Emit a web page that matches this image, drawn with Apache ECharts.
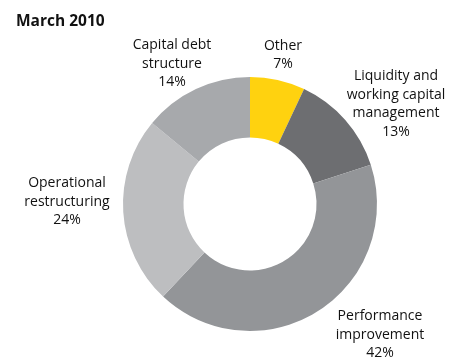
<!DOCTYPE html>
<html>
<head>
<meta charset="utf-8">
<script src="https://cdn.jsdelivr.net/npm/echarts@6/dist/echarts.min.js"></script>
<style>
  html, body { margin: 0; padding: 0; background: #fff; }
  #chart { width: 456px; height: 361px; }
</style>
</head>
<body>
<div id="chart"></div>
<script>
// Share of work by category, March 2010
const categories = [
  'Other',
  'Liquidity and\nworking capital\nmanagement',
  'Performance\nimprovement',
  'Operational\nrestructuring',
  'Capital debt\nstructure'
];
const shares = [7, 13, 42, 24, 14];
const sliceColors = ['#FFD20F', '#6D6E71', '#939598', '#BDBEC0', '#A7A9AC'];

// Label anchor (centre of each text block), in pixels
const labelAnchors = [
  [283, 55],
  [396, 104],
  [380, 335],
  [67, 202],
  [172, 64]
];

const chart = echarts.init(document.getElementById('chart'), null, { renderer: 'canvas' });

chart.setOption({
  animation: false,
  title: {
    text: 'March 2010',
    left: 11,
    top: 9,
    textStyle: { fontFamily: 'Open Sans', fontSize: 15.5, fontWeight: 'bold', color: '#111' }
  },
  series: [{
    type: 'pie',
    center: [250, 204],
    radius: [66.5, 127],
    startAngle: 90,
    clockwise: true,
    avoidLabelOverlap: false,
    itemStyle: { borderWidth: 0 },
    label: {
      show: true,
      position: 'outside',
      formatter: '{b}\n{d}%',
      fontFamily: 'Open Sans',
      fontSize: 14,
      lineHeight: 18.5,
      color: '#111',
      align: 'center'
    },
    labelLine: { show: false },
    labelLayout: function (p) {
      const a = labelAnchors[p.dataIndex];
      return { x: a[0], y: a[1], align: 'center', verticalAlign: 'middle' };
    },
    data: categories.map((name, i) => ({
      name: name,
      value: shares[i],
      itemStyle: { color: sliceColors[i] }
    }))
  }]
});
</script>
</body>
</html>
